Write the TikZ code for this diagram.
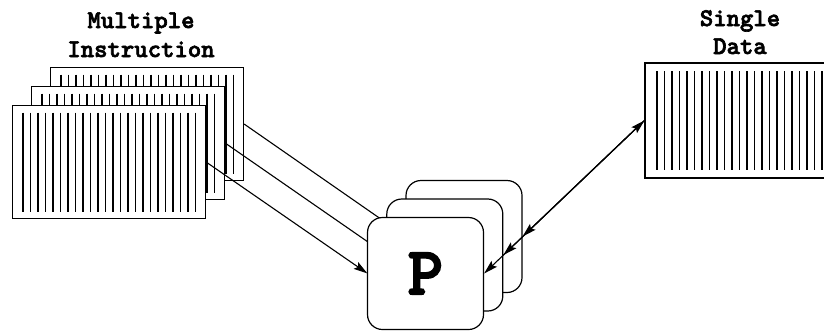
\documentclass[tikz,border=0pt]{standalone}
\usepackage{fontspec}
\newfontfamily\crbold{lmmonolt10-bold}[Extension=.otf, FakeBold=2.5]
\usetikzlibrary{arrows.meta}
\tikzset{
  hatch/.style={line width=1.1pt},
  instrbox/.style={draw, line width=1.2pt, fill=white, minimum width=193pt, minimum height=113pt, inner sep=0pt,
    path picture={\foreach \k in {0,...,23}
      \draw[hatch] ([xshift={10.5pt+\k*7.5pt}, yshift=-7pt]path picture bounding box.north west) -- ++(0,-99pt);}},
  databox/.style={draw, line width=1.2pt, fill=white, minimum width=190pt, minimum height=115pt, inner sep=0pt,
    path picture={\foreach \k in {0,...,24}
      \draw[hatch] ([xshift={12pt+\k*7.5pt}, yshift=-8pt]path picture bounding box.north west) -- ++(0,-99pt);}},
  pbox/.style={draw, line width=1.2pt, fill=white, rounded corners=15pt, minimum width=116pt, minimum height=112pt, inner sep=0pt},
  lbl/.style={font=\crbold\fontsize{25.5}{29.5}\selectfont, inner sep=0pt, anchor=base},
  tip/.tip={Stealth[length=14pt,width=8pt,inset=2.5pt]},
  conn/.style={line width=1.1pt, -tip},
  dconn/.style={line width=1.1pt, tip-tip},
}
\begin{document}
\begin{tikzpicture}[x=1pt,y=-1pt]
\useasboundingbox (0,0) rectangle (824,330);
\clip (0,0) rectangle (824,330);
% labels
\node[lbl] (mul) at (141,28) {Multiple};
\node[lbl] (ins) at (141,57) {Instruction};
\node[lbl] (sing) at (740,26) {Single};
\node[lbl] (dat) at (740,54) {Data};
% instruction stack
\node[instrbox] (i1) at (147,124) {};
\node[instrbox] (i2) at (128,143) {};
\node[instrbox] (i3) at (109,162) {};
% data
\node[databox] (d) at (740,120.5) {};
% processor positions
\coordinate (p1c) at (464,236.5);
\coordinate (p2c) at (444.8,255);
\coordinate (p3c) at (425.5,273.5);
% connectors from instructions (beneath the boxes)
\draw[conn] (i1.east) -- ([xshift=-58pt]p1c);
\draw[conn] (i2.east) -- ([xshift=-58pt]p2c);
\draw[conn] (i3.east) -- ([xshift=-58pt]p3c);
% processors
\node[pbox] (p1) at (p1c) {};
\node[pbox] (p2) at (p2c) {};
\node[pbox, font=\crbold\fontsize{68}{68}\selectfont] (p3) at (p3c) {P};
% connectors to data (on top)
\draw[dconn] (d.west) -- (p1.east);
\draw[conn] (d.west) -- (p2.east);
\draw[conn] (d.west) -- (p3.east);
\end{tikzpicture}
\end{document}
